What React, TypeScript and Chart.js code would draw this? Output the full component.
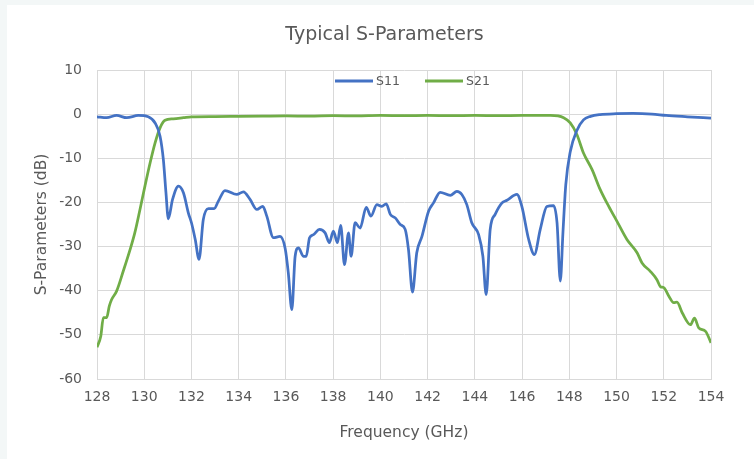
import React, { useEffect, useRef } from "react";
import { Chart, registerables } from "chart.js";

Chart.register(...registerables);

const s11Freq = [
  128, 128.41, 128.83, 129.26, 129.75, 130.17, 130.46, 130.67, 130.81, 130.92, 131.02, 131.2, 131.45,
  131.66, 131.87, 132.0, 132.16, 132.32, 132.5, 132.72, 132.96, 133.14, 133.42, 133.92, 134.2, 134.48,
  134.77, 135.02, 135.19, 135.47, 135.75, 135.97, 136.1, 136.25, 136.39, 136.53, 136.74, 136.86, 137.0,
  137.17, 137.42, 137.66, 137.84, 138.01, 138.18, 138.32, 138.48, 138.65, 138.76, 138.93, 139.14, 139.4,
  139.6, 139.85, 140.06, 140.25, 140.42, 140.63, 140.84, 141.05, 141.19, 141.36, 141.54, 141.76, 142.04,
  142.25, 142.53, 142.96, 143.24, 143.45, 143.66, 143.87, 144.16, 144.34, 144.48, 144.65, 144.86, 145.15,
  145.36, 145.78, 145.99, 146.28, 146.52, 146.77, 147.05, 147.33, 147.48, 147.62, 147.73, 147.85, 148.04,
  148.32, 148.6, 148.9, 149.3, 150.0, 150.7, 151.5, 152.1, 153.0, 154.0,
];
const s11Values = [
  -0.6, -0.8, -0.3, -0.8, -0.3, -0.6, -2, -5, -10.3, -17.8, -23.7, -19.3, -16.3,
  -17.8, -22.4, -24.6, -28.4, -32.9, -23.9, -21.4, -21.4, -19.7, -17.3, -18.2, -17.6, -19.3,
  -21.6, -20.9, -23.1, -28, -27.7, -30.5, -35.9, -44.3, -32.2, -30.3, -32.2, -32.2, -28,
  -27.3, -26.1, -26.9, -29.1, -26.5, -29.1, -25.2, -34.1, -26.9, -32.2, -24.6, -25.8, -21.1,
  -23.1, -20.5, -20.9, -20.3, -22.7, -23.5, -25, -26.1, -30.7, -40.3, -31.4, -27.7, -22,
  -20.1, -17.7, -18.4, -17.5, -18.2, -20.5, -24.6, -27.3, -32.2, -40.9, -26.1, -22.7, -20.1,
  -19.5, -18.2, -20.9, -28.4, -31.8, -26.1, -20.9, -20.7, -24.6, -37.8, -26.9, -16.0, -8.5,
  -3.7, -1.3, -0.5, -0.1, 0.1, 0.15, 0, -0.3, -0.6, -0.9,
];

const s21Freq = [
  128, 128.16, 128.27, 128.41, 128.52, 128.62, 128.83, 129.11, 129.4, 129.6, 129.82, 130.03, 130.25,
  130.46, 130.67, 130.88, 131.23, 131.66, 132.0, 133.0, 134.0, 135.0, 136.0, 137.0, 138.0, 139.0,
  140.0, 141.0, 142.0, 143.0, 144.0, 145.0, 146.0, 147.2, 147.76, 148.04, 148.32, 148.6, 148.96,
  149.31, 149.67, 150.02, 150.44, 150.87, 151.08, 151.43, 151.71, 151.86, 152.0, 152.21, 152.42, 152.56,
  152.78, 153.13, 153.3, 153.48, 153.77, 154.0,
];
const s21Values = [
  -52.8, -50.3, -46.1, -46.1, -43.5, -42, -40.1, -35.6, -30.7, -26.9, -21.6, -16.3, -11,
  -6.5, -3.1, -1.4, -1.05, -0.8, -0.6, -0.55, -0.5, -0.45, -0.4, -0.45, -0.35, -0.4,
  -0.3, -0.35, -0.3, -0.35, -0.3, -0.35, -0.3, -0.3, -0.8, -2, -4.6, -8.8, -12.5,
  -17.1, -20.9, -24.3, -28.4, -31.4, -33.7, -35.6, -37.5, -39.1, -39.3, -41.2, -42.7, -42.6,
  -45, -47.7, -46.2, -48.4, -49.2, -51.8,
];

const xTicks = [128, 130, 132, 134, 136, 138, 140, 142, 144, 146, 148, 150, 152, 154];
const yTicks = [10, 0, -10, -20, -30, -40, -50, -60];

const seriesNames = ["S11", "S21"];
const seriesColors = ["#4472C4", "#70AD47"];
const chartTitle = "Typical S-Parameters";

const FONT = "'DejaVu Sans', sans-serif";
const TEXT = "#595959";
const GRID = "#d9d9d9";

const overlayPlugin = {
  id: "overlay",
  afterDraw(chart: any) {
    const ctx = chart.ctx;
    const a = chart.chartArea;
    ctx.save();
    // title
    ctx.font = `19px ${FONT}`;
    ctx.fillStyle = TEXT;
    ctx.textAlign = "center";
    ctx.textBaseline = "middle";
    ctx.fillText(chartTitle, chart.width / 2 + 4, 30);
    // legend inside the plot
    const cx = (a.left + a.right) / 2;
    const y = a.top + 11;
    const starts = [cx - 69, cx + 21];
    ctx.font = `12.5px ${FONT}`;
    ctx.textAlign = "left";
    seriesNames.forEach((name, i) => {
      const sx = starts[i];
      ctx.strokeStyle = seriesColors[i];
      ctx.lineWidth = 3;
      ctx.beginPath();
      ctx.moveTo(sx, y);
      ctx.lineTo(sx + 38, y);
      ctx.stroke();
      ctx.fillStyle = TEXT;
      ctx.fillText(name, sx + 41, y + 1);
    });
    ctx.restore();
  },
};

export default function App() {
  const ref = useRef<HTMLCanvasElement>(null);
  useEffect(() => {
    document.body.style.margin = "0";
    const canvas = ref.current!;
    const chart = new Chart(canvas, {
      type: "line",
      data: {
        datasets: [
          {
            label: seriesNames[0],
            data: s11Freq.map((f, i) => ({ x: f, y: s11Values[i] })),
            borderColor: seriesColors[0],
            backgroundColor: seriesColors[0],
            borderWidth: 2.75,
            pointRadius: 0,
            cubicInterpolationMode: "monotone",
          },
          {
            label: seriesNames[1],
            data: s21Freq.map((f, i) => ({ x: f, y: s21Values[i] })),
            borderColor: seriesColors[1],
            backgroundColor: seriesColors[1],
            borderWidth: 2.75,
            pointRadius: 0,
            cubicInterpolationMode: "monotone",
          },
        ],
      },
      options: {
        animation: false,
        responsive: false,
        layout: { padding: { left: 0, right: 43, top: 65, bottom: 0 } },
        plugins: {
          legend: { display: false },
          tooltip: { enabled: false },
          title: { display: false },
        },
        scales: {
          x: {
            type: "linear",
            min: 128,
            max: 154,
            afterBuildTicks: (s: any) => {
              s.ticks = xTicks.map((v) => ({ value: v }));
            },
            afterFit: (s: any) => {
              s.height = 80;
            },
            ticks: { color: TEXT, font: { family: FONT, size: 14 }, padding: 10, maxRotation: 0, autoSkip: false },
            grid: { color: GRID, drawTicks: false, lineWidth: 1 },
            border: { color: GRID },
            title: {
              display: true,
              text: "Frequency (GHz)",
              color: TEXT,
              font: { family: FONT, size: 15.5 },
              padding: { top: 0, bottom: 17 },
            },
          },
          y: {
            type: "linear",
            min: -60,
            max: 10,
            afterBuildTicks: (s: any) => {
              s.ticks = yTicks.map((v) => ({ value: v }));
            },
            afterFit: (s: any) => {
              s.width = 90;
            },
            ticks: { color: TEXT, font: { family: FONT, size: 14 }, padding: 15 },
            grid: { color: GRID, drawTicks: false, lineWidth: 1 },
            border: { color: GRID },
            title: {
              display: true,
              text: "S-Parameters (dB)",
              color: TEXT,
              font: { family: FONT, size: 15.5 },
              padding: { top: 26, bottom: 0 },
            },
          },
        },
      },
      plugins: [overlayPlugin],
    } as any);
    return () => chart.destroy();
  }, []);
  return (
    <div style={{ position: "relative", width: 754, height: 459, background: "#f3f7f7", overflow: "hidden" }}>
      <div style={{ position: "absolute", left: 7, top: 5, width: 747, height: 454, background: "#ffffff" }}>
        <canvas ref={ref} width={747} height={454} style={{ display: "block" }} />
      </div>
    </div>
  );
}
